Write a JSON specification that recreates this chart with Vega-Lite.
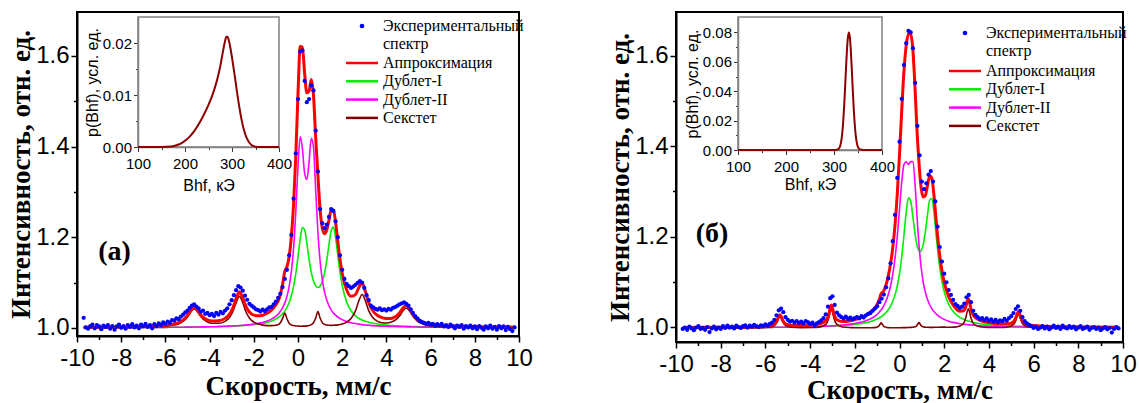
{
"$schema": "https://vega.github.io/schema/vega-lite/v6.json",
"background": "white",
"padding": {"left": 6, "top": 11, "right": 0, "bottom": 0},
"config": {
  "font": "Liberation Sans",
  "view": {"stroke": "black", "strokeWidth": 2},
  "axis": {"grid": false, "domainColor": "black", "domainWidth": 2, "tickColor": "black", "tickWidth": 1.5, "labelColor": "black", "titleColor": "black", "labelFont": "Liberation Sans", "labelFontSize": 24, "titleFont": "Liberation Serif", "titleFontWeight": "bold", "titleFontSize": 27},
  "legend": {"labelFont": "Liberation Serif", "labelFontSize": 16, "labelColor": "black"}
},
"datasets": {
"expA": [
{"v":-9.7,"y":1.022},{"v":-9.6,"y":1.001},{"v":-9.5,"y":0.998},{"v":-9.4,"y":1.004},{"v":-9.3,"y":1.007},{"v":-9.2,"y":0.999},{"v":-9.1,"y":1.006},{"v":-9.0,"y":1.003},{"v":-8.9,"y":0.997},{"v":-8.8,"y":1.005},
{"v":-8.7,"y":1.002},{"v":-8.6,"y":1.006},{"v":-8.5,"y":0.998},{"v":-8.4,"y":1.004},{"v":-8.3,"y":0.996},{"v":-8.2,"y":1.003},{"v":-8.1,"y":1.007},{"v":-8.0,"y":1.000},{"v":-7.9,"y":1.004},{"v":-7.8,"y":0.998},
{"v":-7.7,"y":1.006},{"v":-7.6,"y":1.002},{"v":-7.5,"y":1.008},{"v":-7.4,"y":1.001},{"v":-7.3,"y":1.005},{"v":-7.2,"y":0.999},{"v":-7.1,"y":1.007},{"v":-7.0,"y":1.003},{"v":-6.9,"y":1.009},{"v":-6.8,"y":1.002},
{"v":-6.7,"y":1.006},{"v":-6.6,"y":0.999},{"v":-6.5,"y":1.008},{"v":-6.4,"y":1.004},{"v":-6.3,"y":1.010},{"v":-6.2,"y":1.006},{"v":-6.1,"y":1.012},{"v":-6.0,"y":1.009},{"v":-5.9,"y":1.014},{"v":-5.8,"y":1.011},
{"v":-5.7,"y":1.017},{"v":-5.6,"y":1.016},{"v":-5.5,"y":1.021},{"v":-5.4,"y":1.019},{"v":-5.3,"y":1.025},{"v":-5.2,"y":1.029},{"v":-5.1,"y":1.034},{"v":-5.0,"y":1.038},{"v":-4.9,"y":1.044},{"v":-4.8,"y":1.049},
{"v":-4.7,"y":1.052},{"v":-4.6,"y":1.047},{"v":-4.5,"y":1.043},{"v":-4.4,"y":1.036},{"v":-4.3,"y":1.038},{"v":-4.2,"y":1.031},{"v":-4.1,"y":1.033},{"v":-4.0,"y":1.028},{"v":-3.9,"y":1.031},{"v":-3.8,"y":1.026},
{"v":-3.7,"y":1.033},{"v":-3.6,"y":1.029},{"v":-3.5,"y":1.035},{"v":-3.4,"y":1.032},{"v":-3.3,"y":1.038},{"v":-3.2,"y":1.043},{"v":-3.1,"y":1.052},{"v":-3.0,"y":1.061},{"v":-2.9,"y":1.072},{"v":-2.8,"y":1.083},
{"v":-2.7,"y":1.092},{"v":-2.6,"y":1.089},{"v":-2.5,"y":1.082},{"v":-2.4,"y":1.071},{"v":-2.3,"y":1.062},{"v":-2.2,"y":1.053},{"v":-2.1,"y":1.049},{"v":-2.0,"y":1.045},{"v":-1.9,"y":1.041},{"v":-1.8,"y":1.039},
{"v":-1.7,"y":1.036},{"v":-1.6,"y":1.040},{"v":-1.5,"y":1.037},{"v":-1.4,"y":1.041},{"v":-1.3,"y":1.045},{"v":-1.2,"y":1.046},{"v":-1.1,"y":1.052},{"v":-1.0,"y":1.058},{"v":-0.9,"y":1.066},{"v":-0.8,"y":1.075},
{"v":-0.7,"y":1.090},{"v":-0.6,"y":1.108},{"v":-0.5,"y":1.128},{"v":-0.4,"y":1.160},{"v":-0.3,"y":1.205},{"v":-0.2,"y":1.285},{"v":-0.1,"y":1.385},{"v":0.0,"y":1.505},{"v":0.1,"y":1.610},{"v":0.2,"y":1.612},
{"v":0.3,"y":1.545},{"v":0.4,"y":1.498},{"v":0.5,"y":1.505},{"v":0.6,"y":1.535},{"v":0.7,"y":1.524},{"v":0.8,"y":1.435},{"v":0.9,"y":1.345},{"v":1.0,"y":1.262},{"v":1.1,"y":1.231},{"v":1.2,"y":1.220},
{"v":1.3,"y":1.228},{"v":1.4,"y":1.245},{"v":1.5,"y":1.262},{"v":1.6,"y":1.258},{"v":1.7,"y":1.235},{"v":1.8,"y":1.200},{"v":1.9,"y":1.160},{"v":2.0,"y":1.128},{"v":2.1,"y":1.108},{"v":2.2,"y":1.097},
{"v":2.3,"y":1.092},{"v":2.4,"y":1.088},{"v":2.5,"y":1.091},{"v":2.6,"y":1.095},{"v":2.7,"y":1.099},{"v":2.8,"y":1.103},{"v":2.9,"y":1.100},{"v":3.0,"y":1.088},{"v":3.1,"y":1.072},{"v":3.2,"y":1.061},
{"v":3.3,"y":1.049},{"v":3.4,"y":1.045},{"v":3.5,"y":1.042},{"v":3.6,"y":1.040},{"v":3.7,"y":1.043},{"v":3.8,"y":1.039},{"v":3.9,"y":1.041},{"v":4.0,"y":1.038},{"v":4.1,"y":1.042},{"v":4.2,"y":1.040},
{"v":4.3,"y":1.044},{"v":4.4,"y":1.046},{"v":4.5,"y":1.049},{"v":4.6,"y":1.052},{"v":4.7,"y":1.054},{"v":4.8,"y":1.056},{"v":4.9,"y":1.053},{"v":5.0,"y":1.049},{"v":5.1,"y":1.041},{"v":5.2,"y":1.033},
{"v":5.3,"y":1.026},{"v":5.4,"y":1.021},{"v":5.5,"y":1.016},{"v":5.6,"y":1.013},{"v":5.7,"y":1.011},{"v":5.8,"y":1.009},{"v":5.9,"y":1.011},{"v":6.0,"y":1.007},{"v":6.1,"y":1.009},{"v":6.2,"y":1.004},
{"v":6.3,"y":1.008},{"v":6.4,"y":1.005},{"v":6.5,"y":1.009},{"v":6.6,"y":1.003},{"v":6.7,"y":1.006},{"v":6.8,"y":1.002},{"v":6.9,"y":1.007},{"v":7.0,"y":1.004},{"v":7.1,"y":0.999},{"v":7.2,"y":1.005},
{"v":7.3,"y":1.002},{"v":7.4,"y":1.006},{"v":7.5,"y":0.998},{"v":7.6,"y":1.004},{"v":7.7,"y":1.001},{"v":7.8,"y":1.005},{"v":7.9,"y":0.999},{"v":8.0,"y":1.003},{"v":8.1,"y":0.997},{"v":8.2,"y":1.004},
{"v":8.3,"y":1.000},{"v":8.4,"y":0.996},{"v":8.5,"y":1.003},{"v":8.6,"y":0.999},{"v":8.7,"y":1.005},{"v":8.8,"y":0.998},{"v":8.9,"y":1.002},{"v":9.0,"y":0.996},{"v":9.1,"y":1.004},{"v":9.2,"y":0.999},
{"v":9.3,"y":1.003},{"v":9.4,"y":0.995},{"v":9.5,"y":1.002},{"v":9.6,"y":0.997},{"v":9.7,"y":0.993},{"v":9.8,"y":1.001}
],
"fitA": [
{"v":-9.7,"fit":1.0013,"D1":1.0005,"D2":1.0004,"S":1.0004},
{"v":-9,"fit":1.0015,"D1":1.0005,"D2":1.0005,"S":1.0005},
{"v":-8,"fit":1.002,"D1":1.0007,"D2":1.0006,"S":1.0007},
{"v":-7,"fit":1.0029,"D1":1.0008,"D2":1.0008,"S":1.0013},
{"v":-6.5,"fit":1.004,"D1":1.001,"D2":1.001,"S":1.002},
{"v":-6,"fit":1.0055,"D1":1.0011,"D2":1.0011,"S":1.0033},
{"v":-5.6,"fit":1.0087,"D1":1.0013,"D2":1.0013,"S":1.0061},
{"v":-5.3,"fit":1.014,"D1":1.0014,"D2":1.0014,"S":1.0112},
{"v":-5.1,"fit":1.0214,"D1":1.0015,"D2":1.0015,"S":1.0184},
{"v":-4.95,"fit":1.0309,"D1":1.0016,"D2":1.0016,"S":1.0277},
{"v":-4.8,"fit":1.0417,"D1":1.0016,"D2":1.0017,"S":1.0384},
{"v":-4.7,"fit":1.045,"D1":1.0017,"D2":1.0018,"S":1.0415},
{"v":-4.6,"fit":1.0423,"D1":1.0018,"D2":1.0018,"S":1.0387},
{"v":-4.45,"fit":1.0323,"D1":1.0019,"D2":1.002,"S":1.0284},
{"v":-4.3,"fit":1.0237,"D1":1.002,"D2":1.0021,"S":1.0196},
{"v":-4.1,"fit":1.0176,"D1":1.0022,"D2":1.0023,"S":1.0131},
{"v":-3.9,"fit":1.0151,"D1":1.0024,"D2":1.0025,"S":1.0102},
{"v":-3.6,"fit":1.0156,"D1":1.0027,"D2":1.0029,"S":1.01},
{"v":-3.3,"fit":1.0209,"D1":1.0031,"D2":1.0034,"S":1.0144},
{"v":-3.1,"fit":1.0301,"D1":1.0035,"D2":1.0038,"S":1.0228},
{"v":-2.95,"fit":1.0437,"D1":1.0038,"D2":1.0042,"S":1.0357},
{"v":-2.8,"fit":1.0645,"D1":1.0041,"D2":1.0046,"S":1.0558},
{"v":-2.65,"fit":1.0789,"D1":1.0045,"D2":1.005,"S":1.0694},
{"v":-2.5,"fit":1.0661,"D1":1.005,"D2":1.0056,"S":1.0555},
{"v":-2.35,"fit":1.0468,"D1":1.0055,"D2":1.0063,"S":1.035},
{"v":-2.2,"fit":1.0351,"D1":1.0062,"D2":1.007,"S":1.0219},
{"v":-2,"fit":1.0281,"D1":1.007,"D2":1.0083,"S":1.0128},
{"v":-1.8,"fit":1.0267,"D1":1.0083,"D2":1.01,"S":1.0084},
{"v":-1.6,"fit":1.0279,"D1":1.0099,"D2":1.012,"S":1.006},
{"v":-1.4,"fit":1.0321,"D1":1.0121,"D2":1.015,"S":1.005},
{"v":-1.2,"fit":1.0392,"D1":1.0151,"D2":1.0193,"S":1.0048},
{"v":-1,"fit":1.0508,"D1":1.0195,"D2":1.0257,"S":1.0056},
{"v":-0.85,"fit":1.0654,"D1":1.0242,"D2":1.033,"S":1.0082},
{"v":-0.7,"fit":1.0952,"D1":1.0309,"D2":1.044,"S":1.0203},
{"v":-0.6,"fit":1.124,"D1":1.037,"D2":1.0546,"S":1.0324},
{"v":-0.5,"fit":1.1345,"D1":1.045,"D2":1.0695,"S":1.02},
{"v":-0.4,"fit":1.1573,"D1":1.0559,"D2":1.0913,"S":1.0101},
{"v":-0.3,"fit":1.2016,"D1":1.0708,"D2":1.1245,"S":1.0063},
{"v":-0.2,"fit":1.2728,"D1":1.0915,"D2":1.1762,"S":1.0051},
{"v":-0.1,"fit":1.3796,"D1":1.1199,"D2":1.2555,"S":1.0042},
{"v":0,"fit":1.5172,"D1":1.1565,"D2":1.3568,"S":1.0039},
{"v":0.1,"fit":1.6209,"D1":1.1957,"D2":1.4216,"S":1.0036},
{"v":0.2,"fit":1.6201,"D1":1.2212,"D2":1.3952,"S":1.0037},
{"v":0.3,"fit":1.5614,"D1":1.2165,"D2":1.3411,"S":1.0038},
{"v":0.4,"fit":1.5187,"D1":1.1869,"D2":1.3275,"S":1.0043},
{"v":0.5,"fit":1.5225,"D1":1.1516,"D2":1.3658,"S":1.0051},
{"v":0.6,"fit":1.5482,"D1":1.123,"D2":1.4181,"S":1.0071},
{"v":0.7,"fit":1.5141,"D1":1.1036,"D2":1.3994,"S":1.0111},
{"v":0.8,"fit":1.4197,"D1":1.0927,"D2":1.3054,"S":1.0216},
{"v":0.9,"fit":1.337,"D1":1.089,"D2":1.212,"S":1.036},
{"v":1,"fit":1.2612,"D1":1.092,"D2":1.1474,"S":1.0218},
{"v":1.1,"fit":1.2198,"D1":1.1021,"D2":1.1061,"S":1.0116},
{"v":1.2,"fit":1.2076,"D1":1.1206,"D2":1.0793,"S":1.0077},
{"v":1.3,"fit":1.2158,"D1":1.1483,"D2":1.0614,"S":1.0061},
{"v":1.4,"fit":1.2378,"D1":1.1833,"D2":1.0489,"S":1.0056},
{"v":1.5,"fit":1.2596,"D1":1.2144,"D2":1.0398,"S":1.0054},
{"v":1.6,"fit":1.2608,"D1":1.2222,"D2":1.033,"S":1.0056},
{"v":1.7,"fit":1.2331,"D1":1.1992,"D2":1.0279,"S":1.006},
{"v":1.8,"fit":1.191,"D1":1.1605,"D2":1.0239,"S":1.0066},
{"v":1.9,"fit":1.1513,"D1":1.1232,"D2":1.0207,"S":1.0074},
{"v":2,"fit":1.1207,"D1":1.094,"D2":1.0181,"S":1.0086},
{"v":2.2,"fit":1.084,"D1":1.0572,"D2":1.0142,"S":1.0126},
{"v":2.4,"fit":1.0696,"D1":1.0377,"D2":1.0114,"S":1.0205},
{"v":2.6,"fit":1.0734,"D1":1.0266,"D2":1.0094,"S":1.0374},
{"v":2.75,"fit":1.0886,"D1":1.0212,"D2":1.0082,"S":1.0592},
{"v":2.9,"fit":1.0982,"D1":1.0173,"D2":1.0072,"S":1.0737},
{"v":3.05,"fit":1.0804,"D1":1.0145,"D2":1.0064,"S":1.0595},
{"v":3.2,"fit":1.0561,"D1":1.0122,"D2":1.0058,"S":1.0381},
{"v":3.4,"fit":1.0367,"D1":1.01,"D2":1.005,"S":1.0217},
{"v":3.6,"fit":1.0271,"D1":1.0084,"D2":1.0044,"S":1.0143},
{"v":3.8,"fit":1.0224,"D1":1.0071,"D2":1.0039,"S":1.0114},
{"v":4,"fit":1.0204,"D1":1.0061,"D2":1.0035,"S":1.0108},
{"v":4.2,"fit":1.0206,"D1":1.0053,"D2":1.0031,"S":1.0122},
{"v":4.4,"fit":1.0243,"D1":1.0047,"D2":1.0028,"S":1.0168},
{"v":4.6,"fit":1.0333,"D1":1.0041,"D2":1.0026,"S":1.0266},
{"v":4.75,"fit":1.0437,"D1":1.0038,"D2":1.0024,"S":1.0375},
{"v":4.9,"fit":1.0495,"D1":1.0035,"D2":1.0022,"S":1.0438},
{"v":5.05,"fit":1.0424,"D1":1.0032,"D2":1.0021,"S":1.0371},
{"v":5.2,"fit":1.0305,"D1":1.003,"D2":1.0019,"S":1.0256},
{"v":5.4,"fit":1.0194,"D1":1.0027,"D2":1.0018,"S":1.0149},
{"v":5.7,"fit":1.0116,"D1":1.0024,"D2":1.0016,"S":1.0076},
{"v":6,"fit":1.0081,"D1":1.0021,"D2":1.0014,"S":1.0046},
{"v":6.5,"fit":1.0053,"D1":1.0017,"D2":1.0012,"S":1.0024},
{"v":7,"fit":1.0039,"D1":1.0014,"D2":1.001,"S":1.0015},
{"v":8,"fit":1.0027,"D1":1.0011,"D2":1.0008,"S":1.0008},
{"v":9,"fit":1.0019,"D1":1.0008,"D2":1.0006,"S":1.0005},
{"v":9.8,"fit":1.0015,"D1":1.0007,"D2":1.0005,"S":1.0003}
],
"pA": [
{"B":100,"p":0},{"B":150,"p":0.00002},{"B":160,"p":0.00005},{"B":170,"p":0.0001},{"B":180,"p":0.0003},{"B":190,"p":0.0006},{"B":200,"p":0.0012},{"B":210,"p":0.002},{"B":220,"p":0.0031},{"B":230,"p":0.0045},{"B":240,"p":0.0062},{"B":250,"p":0.0081},{"B":260,"p":0.0104},{"B":270,"p":0.0135},{"B":275,"p":0.0155},{"B":280,"p":0.018},{"B":285,"p":0.0203},{"B":288,"p":0.0212},{"B":290,"p":0.0212},{"B":292,"p":0.0209},{"B":295,"p":0.0198},{"B":300,"p":0.0172},{"B":305,"p":0.0142},{"B":310,"p":0.011},{"B":315,"p":0.008},{"B":320,"p":0.0054},{"B":325,"p":0.0034},{"B":330,"p":0.002},{"B":335,"p":0.0011},{"B":340,"p":0.0005},{"B":345,"p":0.0002},{"B":350,"p":0.00005},{"B":360,"p":0},{"B":400,"p":0}
],
"expB": [
{"v":-9.7,"y":0.996},{"v":-9.6,"y":0.999},{"v":-9.5,"y":0.994},{"v":-9.4,"y":1.001},{"v":-9.3,"y":0.997},{"v":-9.2,"y":0.993},{"v":-9.1,"y":0.999},{"v":-9.0,"y":1.002},{"v":-8.9,"y":0.996},{"v":-8.8,"y":0.998},
{"v":-8.7,"y":0.994},{"v":-8.6,"y":1.000},{"v":-8.5,"y":0.989},{"v":-8.4,"y":0.997},{"v":-8.3,"y":1.001},{"v":-8.2,"y":0.995},{"v":-8.1,"y":0.999},{"v":-8.0,"y":0.996},{"v":-7.9,"y":1.002},{"v":-7.8,"y":0.998},
{"v":-7.7,"y":1.003},{"v":-7.6,"y":0.999},{"v":-7.5,"y":1.001},{"v":-7.4,"y":0.997},{"v":-7.3,"y":1.003},{"v":-7.2,"y":1.000},{"v":-7.1,"y":0.998},{"v":-7.0,"y":1.002},{"v":-6.9,"y":1.004},{"v":-6.8,"y":0.999},
{"v":-6.7,"y":1.003},{"v":-6.6,"y":1.001},{"v":-6.5,"y":1.005},{"v":-6.4,"y":1.002},{"v":-6.3,"y":1.000},{"v":-6.2,"y":1.004},{"v":-6.1,"y":1.002},{"v":-6.0,"y":1.006},{"v":-5.9,"y":1.003},{"v":-5.8,"y":1.007},
{"v":-5.7,"y":1.010},{"v":-5.6,"y":1.016},{"v":-5.5,"y":1.026},{"v":-5.4,"y":1.037},{"v":-5.3,"y":1.041},{"v":-5.2,"y":1.033},{"v":-5.1,"y":1.022},{"v":-5.0,"y":1.016},{"v":-4.9,"y":1.012},{"v":-4.8,"y":1.014},
{"v":-4.7,"y":1.010},{"v":-4.6,"y":1.013},{"v":-4.5,"y":1.009},{"v":-4.4,"y":1.012},{"v":-4.3,"y":1.008},{"v":-4.2,"y":1.013},{"v":-4.1,"y":1.011},{"v":-4.0,"y":1.007},{"v":-3.9,"y":1.010},{"v":-3.8,"y":1.004},
{"v":-3.7,"y":1.008},{"v":-3.6,"y":1.011},{"v":-3.5,"y":1.015},{"v":-3.4,"y":1.020},{"v":-3.3,"y":1.028},{"v":-3.2,"y":1.045},{"v":-3.1,"y":1.064},{"v":-3.0,"y":1.068},{"v":-2.9,"y":1.049},{"v":-2.8,"y":1.032},
{"v":-2.7,"y":1.026},{"v":-2.6,"y":1.022},{"v":-2.5,"y":1.019},{"v":-2.4,"y":1.023},{"v":-2.3,"y":1.018},{"v":-2.2,"y":1.021},{"v":-2.1,"y":1.017},{"v":-2.0,"y":1.020},{"v":-1.9,"y":1.022},{"v":-1.8,"y":1.019},
{"v":-1.7,"y":1.024},{"v":-1.6,"y":1.021},{"v":-1.5,"y":1.026},{"v":-1.4,"y":1.029},{"v":-1.3,"y":1.031},{"v":-1.2,"y":1.036},{"v":-1.1,"y":1.041},{"v":-1.0,"y":1.046},{"v":-0.9,"y":1.055},{"v":-0.8,"y":1.063},
{"v":-0.7,"y":1.072},{"v":-0.6,"y":1.088},{"v":-0.5,"y":1.108},{"v":-0.4,"y":1.141},{"v":-0.3,"y":1.190},{"v":-0.2,"y":1.248},{"v":-0.1,"y":1.330},{"v":0.0,"y":1.410},{"v":0.1,"y":1.505},{"v":0.2,"y":1.580},
{"v":0.3,"y":1.628},{"v":0.4,"y":1.655},{"v":0.5,"y":1.652},{"v":0.6,"y":1.617},{"v":0.7,"y":1.540},{"v":0.8,"y":1.445},{"v":0.9,"y":1.380},{"v":1.0,"y":1.322},{"v":1.1,"y":1.305},{"v":1.2,"y":1.318},
{"v":1.3,"y":1.337},{"v":1.4,"y":1.345},{"v":1.5,"y":1.322},{"v":1.6,"y":1.278},{"v":1.7,"y":1.222},{"v":1.8,"y":1.177},{"v":1.9,"y":1.145},{"v":2.0,"y":1.118},{"v":2.1,"y":1.099},{"v":2.2,"y":1.082},
{"v":2.3,"y":1.071},{"v":2.4,"y":1.060},{"v":2.5,"y":1.051},{"v":2.6,"y":1.047},{"v":2.7,"y":1.042},{"v":2.8,"y":1.045},{"v":2.9,"y":1.052},{"v":3.0,"y":1.066},{"v":3.1,"y":1.071},{"v":3.2,"y":1.055},
{"v":3.3,"y":1.036},{"v":3.4,"y":1.027},{"v":3.5,"y":1.022},{"v":3.6,"y":1.018},{"v":3.7,"y":1.020},{"v":3.8,"y":1.015},{"v":3.9,"y":1.019},{"v":4.0,"y":1.014},{"v":4.1,"y":1.017},{"v":4.2,"y":1.012},
{"v":4.3,"y":1.016},{"v":4.4,"y":1.011},{"v":4.5,"y":1.015},{"v":4.6,"y":1.013},{"v":4.7,"y":1.018},{"v":4.8,"y":1.014},{"v":4.9,"y":1.020},{"v":5.0,"y":1.024},{"v":5.1,"y":1.031},{"v":5.2,"y":1.040},
{"v":5.3,"y":1.046},{"v":5.4,"y":1.036},{"v":5.5,"y":1.022},{"v":5.6,"y":1.013},{"v":5.7,"y":1.008},{"v":5.8,"y":1.005},{"v":5.9,"y":1.002},{"v":6.0,"y":0.998},{"v":6.1,"y":1.001},{"v":6.2,"y":0.996},
{"v":6.3,"y":0.999},{"v":6.4,"y":1.002},{"v":6.5,"y":0.997},{"v":6.6,"y":1.001},{"v":6.7,"y":0.995},{"v":6.8,"y":0.999},{"v":6.9,"y":1.003},{"v":7.0,"y":0.998},{"v":7.1,"y":1.001},{"v":7.2,"y":0.996},
{"v":7.3,"y":1.003},{"v":7.4,"y":0.999},{"v":7.5,"y":0.997},{"v":7.6,"y":1.002},{"v":7.7,"y":0.998},{"v":7.8,"y":1.001},{"v":7.9,"y":0.995},{"v":8.0,"y":0.999},{"v":8.1,"y":1.002},{"v":8.2,"y":0.996},
{"v":8.3,"y":0.998},{"v":8.4,"y":1.001},{"v":8.5,"y":0.994},{"v":8.6,"y":0.998},{"v":8.7,"y":1.000},{"v":8.8,"y":0.996},{"v":8.9,"y":0.999},{"v":9.0,"y":0.993},{"v":9.1,"y":0.997},{"v":9.2,"y":1.000},
{"v":9.3,"y":0.995},{"v":9.4,"y":0.998},{"v":9.5,"y":0.988},{"v":9.6,"y":0.996},{"v":9.7,"y":1.000},{"v":9.8,"y":0.997}
],
"fitB": [
{"v":-9.7,"fit":0.9992,"D1":0.9986,"D2":0.9985,"S":0.9981},
{"v":-8.5,"fit":0.9995,"D1":0.9987,"D2":0.9987,"S":0.9981},
{"v":-7.3,"fit":1.0,"D1":0.9989,"D2":0.9989,"S":0.9982},
{"v":-6.3,"fit":1.0009,"D1":0.9992,"D2":0.9992,"S":0.9985},
{"v":-5.85,"fit":1.0025,"D1":0.9994,"D2":0.9994,"S":0.9997},
{"v":-5.6,"fit":1.0066,"D1":0.9995,"D2":0.9995,"S":1.0036},
{"v":-5.47,"fit":1.0153,"D1":0.9996,"D2":0.9996,"S":1.0121},
{"v":-5.4,"fit":1.024,"D1":0.9996,"D2":0.9996,"S":1.0208},
{"v":-5.35,"fit":1.0273,"D1":0.9996,"D2":0.9996,"S":1.0241},
{"v":-5.3,"fit":1.024,"D1":0.9996,"D2":0.9996,"S":1.0208},
{"v":-5.23,"fit":1.0154,"D1":0.9997,"D2":0.9996,"S":1.0121},
{"v":-5.1,"fit":1.0073,"D1":0.9998,"D2":0.9998,"S":1.0037},
{"v":-4.85,"fit":1.0037,"D1":0.9999,"D2":1.0,"S":0.9998},
{"v":-4.4,"fit":1.0035,"D1":1.0003,"D2":1.0004,"S":0.9988},
{"v":-3.9,"fit":1.0048,"D1":1.0008,"D2":1.001,"S":0.999},
{"v":-3.55,"fit":1.0072,"D1":1.0012,"D2":1.0016,"S":1.0004},
{"v":-3.3,"fit":1.0138,"D1":1.0017,"D2":1.0021,"S":1.006},
{"v":-3.17,"fit":1.0272,"D1":1.0018,"D2":1.0023,"S":1.0191},
{"v":-3.1,"fit":1.0424,"D1":1.002,"D2":1.0025,"S":1.0339},
{"v":-3.05,"fit":1.0487,"D1":1.002,"D2":1.0026,"S":1.0401},
{"v":-3.0,"fit":1.0427,"D1":1.0021,"D2":1.0027,"S":1.0339},
{"v":-2.93,"fit":1.0283,"D1":1.0023,"D2":1.0029,"S":1.0191},
{"v":-2.8,"fit":1.0164,"D1":1.0028,"D2":1.0036,"S":1.006},
{"v":-2.55,"fit":1.0124,"D1":1.0035,"D2":1.0046,"S":1.0003},
{"v":-2.2,"fit":1.0142,"D1":1.0048,"D2":1.0065,"S":0.9989},
{"v":-1.85,"fit":1.0187,"D1":1.0068,"D2":1.0094,"S":0.9985},
{"v":-1.5,"fit":1.0263,"D1":1.0098,"D2":1.0141,"S":0.9984},
{"v":-1.25,"fit":1.0352,"D1":1.013,"D2":1.0196,"S":0.9986},
{"v":-1.05,"fit":1.0462,"D1":1.0167,"D2":1.0261,"S":0.9994},
{"v":-0.94,"fit":1.0562,"D1":1.0194,"D2":1.0312,"S":1.0016},
{"v":-0.87,"fit":1.0664,"D1":1.0213,"D2":1.035,"S":1.0061},
{"v":-0.82,"fit":1.0743,"D1":1.0229,"D2":1.0382,"S":1.0092},
{"v":-0.77,"fit":1.0764,"D1":1.0246,"D2":1.0417,"S":1.0061},
{"v":-0.7,"fit":1.0807,"D1":1.0275,"D2":1.0476,"S":1.0016},
{"v":-0.6,"fit":1.0939,"D1":1.0323,"D2":1.0581,"S":0.9995},
{"v":-0.5,"fit":1.1133,"D1":1.0385,"D2":1.072,"S":0.9988},
{"v":-0.4,"fit":1.14,"D1":1.0465,"D2":1.0909,"S":0.9986},
{"v":-0.3,"fit":1.1763,"D1":1.0571,"D2":1.1167,"S":0.9985},
{"v":-0.2,"fit":1.2262,"D1":1.0713,"D2":1.1524,"S":0.9985},
{"v":-0.1,"fit":1.294,"D1":1.0909,"D2":1.2006,"S":0.9985},
{"v":0.0,"fit":1.3813,"D1":1.1182,"D2":1.2605,"S":0.9986},
{"v":0.1,"fit":1.4794,"D1":1.1556,"D2":1.3211,"S":0.9987},
{"v":0.2,"fit":1.5665,"D1":1.2037,"D2":1.36,"S":0.9988},
{"v":0.3,"fit":1.6232,"D1":1.2544,"D2":1.3659,"S":0.9989},
{"v":0.4,"fit":1.649,"D1":1.286,"D2":1.3599,"S":0.9991},
{"v":0.5,"fit":1.6483,"D1":1.2789,"D2":1.3661,"S":0.9993},
{"v":0.6,"fit":1.6126,"D1":1.2433,"D2":1.3656,"S":0.9997},
{"v":0.7,"fit":1.5231,"D1":1.2049,"D2":1.3134,"S":1.0008},
{"v":0.77,"fit":1.448,"D1":1.1847,"D2":1.2562,"S":1.0031},
{"v":0.82,"fit":1.4025,"D1":1.1749,"D2":1.2169,"S":1.0067},
{"v":0.87,"fit":1.3654,"D1":1.169,"D2":1.1826,"S":1.0098},
{"v":0.92,"fit":1.3319,"D1":1.167,"D2":1.1542,"S":1.0067},
{"v":0.97,"fit":1.3073,"D1":1.169,"D2":1.1312,"S":1.0031},
{"v":1.05,"fit":1.288,"D1":1.1803,"D2":1.103,"S":1.0007},
{"v":1.15,"fit":1.2906,"D1":1.2083,"D2":1.0785,"S":0.9998},
{"v":1.25,"fit":1.3124,"D1":1.2474,"D2":1.0615,"S":0.9995},
{"v":1.35,"fit":1.3341,"D1":1.2813,"D2":1.0494,"S":0.9994},
{"v":1.45,"fit":1.3284,"D1":1.2845,"D2":1.0405,"S":0.9994},
{"v":1.55,"fit":1.2871,"D1":1.2498,"D2":1.0338,"S":0.9995},
{"v":1.65,"fit":1.2306,"D1":1.1985,"D2":1.0285,"S":0.9996},
{"v":1.75,"fit":1.1795,"D1":1.1513,"D2":1.0245,"S":0.9997},
{"v":1.85,"fit":1.1398,"D1":1.115,"D2":1.021,"S":0.9998},
{"v":2.0,"fit":1.0995,"D1":1.0784,"D2":1.0171,"S":1.0},
{"v":2.2,"fit":1.067,"D1":1.0504,"D2":1.0131,"S":0.9995},
{"v":2.45,"fit":1.0455,"D1":1.0318,"D2":1.0098,"S":0.9999},
{"v":2.7,"fit":1.0352,"D1":1.0216,"D2":1.0074,"S":1.0022},
{"v":2.87,"fit":1.0362,"D1":1.0172,"D2":1.0063,"S":1.0087},
{"v":2.96,"fit":1.0445,"D1":1.0152,"D2":1.0059,"S":1.0194},
{"v":3.03,"fit":1.0578,"D1":1.014,"D2":1.0056,"S":1.0342},
{"v":3.08,"fit":1.0626,"D1":1.0132,"D2":1.005,"S":1.0404},
{"v":3.13,"fit":1.0559,"D1":1.0128,"D2":1.0049,"S":1.0342},
{"v":3.2,"fit":1.0395,"D1":1.0115,"D2":1.0046,"S":1.0194},
{"v":3.33,"fit":1.0244,"D1":1.0099,"D2":1.0042,"S":1.0063},
{"v":3.6,"fit":1.0149,"D1":1.0074,"D2":1.0029,"S":1.0006},
{"v":4.0,"fit":1.0101,"D1":1.005,"D2":1.002,"S":0.9991},
{"v":4.5,"fit":1.0072,"D1":1.0031,"D2":1.0011,"S":0.999},
{"v":4.85,"fit":1.0071,"D1":1.0022,"D2":1.0006,"S":1.0003},
{"v":5.1,"fit":1.0119,"D1":1.0017,"D2":1.0003,"S":1.0059},
{"v":5.2,"fit":1.0202,"D1":1.0017,"D2":1.0002,"S":1.0143},
{"v":5.27,"fit":1.03,"D1":1.0016,"D2":1.0002,"S":1.0242},
{"v":5.32,"fit":1.0339,"D1":1.0016,"D2":1.0002,"S":1.0281},
{"v":5.37,"fit":1.0299,"D1":1.0016,"D2":1.0001,"S":1.0242},
{"v":5.44,"fit":1.0199,"D1":1.0015,"D2":1.0001,"S":1.0143},
{"v":5.54,"fit":1.0114,"D1":1.0015,"D2":1.0,"S":1.0059},
{"v":5.8,"fit":1.0045,"D1":1.0007,"D2":0.9997,"S":1.0001},
{"v":6.3,"fit":1.0022,"D1":1.0002,"D2":0.9995,"S":0.9985},
{"v":7.3,"fit":1.0008,"D1":0.9996,"D2":0.9991,"S":0.9981},
{"v":8.5,"fit":1.0,"D1":0.9991,"D2":0.9988,"S":0.9981},
{"v":9.8,"fit":0.9994,"D1":0.9988,"D2":0.9986,"S":0.998}
],
"pB": [
{"B":100,"p":0},{"B":200,"p":0},{"B":290,"p":0},{"B":301,"p":0},{"B":305,"p":0.0001},{"B":308,"p":0.0004},{"B":311,"p":0.0014},{"B":313,"p":0.0029},{"B":315,"p":0.0059},{"B":317,"p":0.0108},{"B":319,"p":0.0184},{"B":321,"p":0.0288},{"B":323,"p":0.0416},{"B":325,"p":0.0554},{"B":327,"p":0.068},{"B":329,"p":0.0768},{"B":331,"p":0.08},{"B":333,"p":0.0768},{"B":335,"p":0.068},{"B":337,"p":0.0554},{"B":339,"p":0.0416},{"B":341,"p":0.0288},{"B":343,"p":0.0184},{"B":345,"p":0.0108},{"B":347,"p":0.0059},{"B":349,"p":0.0029},{"B":351,"p":0.0014},{"B":354,"p":0.0004},{"B":357,"p":0.0001},{"B":361,"p":0},{"B":400,"p":0}
]
},
"hconcat": [
{
  "width": 442, "height": 324,
  "layer": [
    {"layer": [
      {"data": {"name": "fitA"},
       "transform": [{"fold": ["D1", "D2", "S"], "as": ["series", "val"]}],
       "mark": {"type": "line", "strokeWidth": 1.6, "interpolate": "monotone"},
       "encoding": {
         "x": {"field": "v", "type": "quantitative", "scale": {"domain": [-10, 10], "nice": false, "zero": false},
               "axis": {"orient": "bottom", "values": [-10,-8,-6,-4,-2,0,2,4,6,8,10], "labelExpr": "'' + datum.value", "tickSize": 6, "labelPadding": 4, "titlePadding": 3, "labelOverlap": false, "labelFlush": false, "title": "Скорость, мм/с"}},
         "y": {"field": "val", "type": "quantitative", "scale": {"domain": [0.982, 1.697], "nice": false, "zero": false},
               "axis": {"orient": "left", "values": [1, 1.2, 1.4, 1.6], "labelExpr": "format(datum.value, '.1f')", "tickSize": 6, "labelPadding": 2, "titlePadding": 0, "labelOverlap": false, "title": "Интенсивность, отн. ед."}},
         "stroke": {"field": "series", "type": "nominal", "scale": {"domain": ["fit", "D1", "D2", "S"], "range": ["#ff0000", "#00ee00", "#ff00ff", "#800000"]},
               "legend": {"title": null, "orient": "none", "legendX": 277, "legendY": 43, "symbolType": "M-3.2,0H3.2", "symbolSize": 100, "symbolStrokeWidth": 2.5, "labelOffset": 13, "rowPadding": 2.3, "labelFont": "Liberation Serif", "labelFontSize": 16, "labelExpr": "{'fit': 'Аппроксимация', 'D1': 'Дублет-I', 'D2': 'Дублет-II', 'S': 'Секстет'}[datum.label]"}}
       }},
      {"data": {"name": "fitA"},
       "mark": {"type": "line", "strokeWidth": 3, "interpolate": "monotone"},
       "encoding": {
         "x": {"field": "v", "type": "quantitative", "scale": {"domain": [-10, 10], "nice": false, "zero": false}, "axis": null},
         "y": {"field": "fit", "type": "quantitative", "scale": {"domain": [0.982, 1.697], "nice": false, "zero": false}, "axis": null},
         "stroke": {"datum": "fit", "type": "nominal", "scale": {"domain": ["fit", "D1", "D2", "S"], "range": ["#ff0000", "#00ee00", "#ff00ff", "#800000"]},
               "legend": {"title": null, "orient": "none", "legendX": 277, "legendY": 43, "symbolType": "M-3.2,0H3.2", "symbolSize": 100, "symbolStrokeWidth": 2.5, "labelOffset": 13, "rowPadding": 2.3, "labelFont": "Liberation Serif", "labelFontSize": 16, "labelExpr": "{'fit': 'Аппроксимация', 'D1': 'Дублет-I', 'D2': 'Дублет-II', 'S': 'Секстет'}[datum.label]"}}
       }},
      {"data": {"name": "expA"},
       "mark": {"type": "point", "filled": true, "size": 18, "opacity": 1},
       "encoding": {
         "x": {"field": "v", "type": "quantitative", "scale": {"domain": [-10, 10], "nice": false, "zero": false}, "axis": null},
         "y": {"field": "y", "type": "quantitative", "scale": {"domain": [0.982, 1.697], "nice": false, "zero": false}, "axis": null},
         "fill": {"datum": "Экспериментальный спектр", "type": "nominal", "scale": {"domain": ["Экспериментальный спектр"], "range": ["#0000ff"]},
               "legend": {"title": null, "orient": "none", "legendX": 277, "legendY": 6, "symbolType": "circle", "symbolSize": 22, "labelOffset": 13, "labelLimit": 300, "labelFont": "Liberation Serif", "labelFontSize": 16, "labelExpr": "datum.label == 'Экспериментальный спектр' ? ['Экспериментальный', 'спектр'] : datum.label"}}
       }},
      {"data": {"values": [{}]},
       "mark": {"type": "text", "text": "(а)", "font": "Liberation Serif", "fontWeight": "bold", "fontSize": 28, "color": "black"},
       "encoding": {
         "x": {"datum": -8.3, "type": "quantitative", "scale": {"domain": [-10, 10], "nice": false, "zero": false},
               "axis": {"orient": "bottom", "values": [-9,-7,-5,-3,-1,1,3,5,7,9], "labels": false, "domain": false, "tickSize": 3.5, "title": null}},
         "y": {"datum": 1.168, "type": "quantitative", "scale": {"domain": [0.982, 1.697], "nice": false, "zero": false},
               "axis": {"orient": "left", "values": [1.1, 1.3, 1.5], "labels": false, "domain": false, "tickSize": 3.5, "title": null}}
       }}
    ],
    "resolve": {"axis": {"x": "independent", "y": "independent"}}},
    {"layer": [
      {"data": {"values": [{}]},
       "mark": {"type": "rect", "fill": "transparent", "stroke": "#808080", "strokeWidth": 1.5},
       "encoding": {
         "x": {"datum": 100, "type": "quantitative", "scale": {"domain": [100, 400], "range": [61, 202], "nice": false, "zero": false},
               "axis": {"orient": "bottom", "offset": -189, "values": [150, 250, 350], "labels": false, "domain": false, "tickSize": 2.5, "tickColor": "#333333", "tickWidth": 1, "title": null}},
         "x2": {"datum": 400},
         "y": {"datum": 0, "type": "quantitative", "scale": {"domain": [0, 0.025], "range": [135, 5], "nice": false, "zero": false},
               "axis": {"orient": "left", "offset": -61, "values": [0.005, 0.015], "labels": false, "domain": false, "tickSize": 2.5, "tickColor": "#333333", "tickWidth": 1, "title": null}},
         "y2": {"datum": 0.025}
       }},
      {"data": {"name": "pA"},
       "mark": {"type": "line", "color": "#8b0000", "strokeWidth": 2, "interpolate": "monotone"},
       "encoding": {
         "x": {"field": "B", "type": "quantitative", "scale": {"domain": [100, 400], "range": [61, 202], "nice": false, "zero": false},
               "axis": {"orient": "bottom", "offset": -189, "values": [100, 200, 300, 400], "labelExpr": "'' + datum.value", "tickSize": 4.5, "labelFontSize": 15, "labelPadding": 5, "domainColor": "#808080", "domainWidth": 1.5, "tickColor": "#333333", "tickWidth": 1, "title": "Bhf, кЭ", "titleFont": "Liberation Sans", "titleFontWeight": "normal", "titleFontSize": 16, "titlePadding": 6, "labelOverlap": false, "labelFlush": false}},
         "y": {"field": "p", "type": "quantitative", "scale": {"domain": [0, 0.025], "range": [135, 5], "nice": false, "zero": false},
               "axis": {"orient": "left", "offset": -61, "values": [0, 0.01, 0.02], "labelExpr": "format(datum.value, '.2f')", "tickSize": 4.5, "labelFontSize": 15, "labelPadding": 2, "domainColor": "#808080", "domainWidth": 1.5, "tickColor": "#333333", "tickWidth": 1, "title": "p(Bhf), усл. ед.", "titleFont": "Liberation Sans", "titleFontWeight": "normal", "titleFontSize": 16, "titlePadding": 2, "labelOverlap": false}}
       }}
    ],
    "resolve": {"axis": {"x": "independent", "y": "independent"}}}
  ],
  "resolve": {"scale": {"x": "independent", "y": "independent"}}
},
{
  "width": 447, "height": 330,
  "layer": [
    {"layer": [
      {"data": {"name": "fitB"},
       "transform": [{"fold": ["D1", "D2", "S"], "as": ["series", "val"]}],
       "mark": {"type": "line", "strokeWidth": 1.6, "interpolate": "monotone"},
       "encoding": {
         "x": {"field": "v", "type": "quantitative", "scale": {"domain": [-10, 10], "nice": false, "zero": false},
               "axis": {"orient": "bottom", "values": [-10,-8,-6,-4,-2,0,2,4,6,8,10], "labelExpr": "'' + datum.value", "tickSize": 6, "labelPadding": 4, "titlePadding": 1, "labelOverlap": false, "labelFlush": false, "title": "Скорость, мм/с"}},
         "y": {"field": "val", "type": "quantitative", "scale": {"domain": [0.967, 1.697], "nice": false, "zero": false},
               "axis": {"orient": "left", "values": [1, 1.2, 1.4, 1.6], "labelExpr": "format(datum.value, '.1f')", "tickSize": 6, "labelPadding": 2, "titlePadding": 0, "labelOverlap": false, "title": "Интенсивность, отн. ед."}},
         "stroke": {"field": "series", "type": "nominal", "scale": {"domain": ["fit", "D1", "D2", "S"], "range": ["#ff0000", "#00ee00", "#ff00ff", "#800000"]},
               "legend": {"title": null, "orient": "none", "legendX": 281, "legendY": 51, "symbolType": "M-3.2,0H3.2", "symbolSize": 100, "symbolStrokeWidth": 2.5, "labelOffset": 13, "rowPadding": 2.3, "labelFont": "Liberation Serif", "labelFontSize": 16, "labelExpr": "{'fit': 'Аппроксимация', 'D1': 'Дублет-I', 'D2': 'Дублет-II', 'S': 'Секстет'}[datum.label]"}}
       }},
      {"data": {"name": "fitB"},
       "mark": {"type": "line", "strokeWidth": 3, "interpolate": "monotone"},
       "encoding": {
         "x": {"field": "v", "type": "quantitative", "scale": {"domain": [-10, 10], "nice": false, "zero": false}, "axis": null},
         "y": {"field": "fit", "type": "quantitative", "scale": {"domain": [0.967, 1.697], "nice": false, "zero": false}, "axis": null},
         "stroke": {"datum": "fit", "type": "nominal", "scale": {"domain": ["fit", "D1", "D2", "S"], "range": ["#ff0000", "#00ee00", "#ff00ff", "#800000"]},
               "legend": {"title": null, "orient": "none", "legendX": 281, "legendY": 51, "symbolType": "M-3.2,0H3.2", "symbolSize": 100, "symbolStrokeWidth": 2.5, "labelOffset": 13, "rowPadding": 2.3, "labelFont": "Liberation Serif", "labelFontSize": 16, "labelExpr": "{'fit': 'Аппроксимация', 'D1': 'Дублет-I', 'D2': 'Дублет-II', 'S': 'Секстет'}[datum.label]"}}
       }},
      {"data": {"name": "expB"},
       "mark": {"type": "point", "filled": true, "size": 18, "opacity": 1},
       "encoding": {
         "x": {"field": "v", "type": "quantitative", "scale": {"domain": [-10, 10], "nice": false, "zero": false}, "axis": null},
         "y": {"field": "y", "type": "quantitative", "scale": {"domain": [0.967, 1.697], "nice": false, "zero": false}, "axis": null},
         "fill": {"datum": "Экспериментальный спектр", "type": "nominal", "scale": {"domain": ["Экспериментальный спектр"], "range": ["#0000ff"]},
               "legend": {"title": null, "orient": "none", "legendX": 281, "legendY": 13, "symbolType": "circle", "symbolSize": 22, "labelOffset": 13, "labelLimit": 300, "labelFont": "Liberation Serif", "labelFontSize": 16, "labelExpr": "datum.label == 'Экспериментальный спектр' ? ['Экспериментальный', 'спектр'] : datum.label"}}
       }},
      {"data": {"values": [{}]},
       "mark": {"type": "text", "text": "(б)", "font": "Liberation Serif", "fontWeight": "bold", "fontSize": 28, "color": "black"},
       "encoding": {
         "x": {"datum": -8.39, "type": "quantitative", "scale": {"domain": [-10, 10], "nice": false, "zero": false},
               "axis": {"orient": "bottom", "values": [-9,-7,-5,-3,-1,1,3,5,7,9], "labels": false, "domain": false, "tickSize": 3.5, "title": null}},
         "y": {"datum": 1.205, "type": "quantitative", "scale": {"domain": [0.967, 1.697], "nice": false, "zero": false},
               "axis": {"orient": "left", "values": [1.1, 1.3, 1.5], "labels": false, "domain": false, "tickSize": 3.5, "title": null}}
       }}
    ],
    "resolve": {"axis": {"x": "independent", "y": "independent"}}},
    {"layer": [
      {"data": {"values": [{}]},
       "mark": {"type": "rect", "fill": "transparent", "stroke": "#808080", "strokeWidth": 1.5},
       "encoding": {
         "x": {"datum": 100, "type": "quantitative", "scale": {"domain": [100, 400], "range": [62, 206], "nice": false, "zero": false},
               "axis": {"orient": "bottom", "offset": -192, "values": [150, 250, 350], "labels": false, "domain": false, "tickSize": 2.5, "tickColor": "#333333", "tickWidth": 1, "title": null}},
         "x2": {"datum": 400},
         "y": {"datum": 0, "type": "quantitative", "scale": {"domain": [0, 0.0905], "range": [138, 5], "nice": false, "zero": false},
               "axis": {"orient": "left", "offset": -62, "values": [0.01, 0.03, 0.05, 0.07], "labels": false, "domain": false, "tickSize": 2.5, "tickColor": "#333333", "tickWidth": 1, "title": null}},
         "y2": {"datum": 0.0905}
       }},
      {"data": {"name": "pB"},
       "mark": {"type": "line", "color": "#8b0000", "strokeWidth": 2, "interpolate": "monotone"},
       "encoding": {
         "x": {"field": "B", "type": "quantitative", "scale": {"domain": [100, 400], "range": [62, 206], "nice": false, "zero": false},
               "axis": {"orient": "bottom", "offset": -192, "values": [100, 200, 300, 400], "labelExpr": "'' + datum.value", "tickSize": 4.5, "labelFontSize": 15, "labelPadding": 5, "domainColor": "#808080", "domainWidth": 1.5, "tickColor": "#333333", "tickWidth": 1, "title": "Bhf, кЭ", "titleFont": "Liberation Sans", "titleFontWeight": "normal", "titleFontSize": 16, "titlePadding": 2, "labelOverlap": false, "labelFlush": false}},
         "y": {"field": "p", "type": "quantitative", "scale": {"domain": [0, 0.0905], "range": [138, 5], "nice": false, "zero": false},
               "axis": {"orient": "left", "offset": -62, "values": [0, 0.02, 0.04, 0.06, 0.08], "labelExpr": "format(datum.value, '.2f')", "tickSize": 4.5, "labelFontSize": 15, "labelPadding": 2, "domainColor": "#808080", "domainWidth": 1.5, "tickColor": "#333333", "tickWidth": 1, "title": "p(Bhf), усл. ед.", "titleFont": "Liberation Sans", "titleFontWeight": "normal", "titleFontSize": 16, "titlePadding": 2, "labelOverlap": false}}
       }}
    ],
    "resolve": {"axis": {"x": "independent", "y": "independent"}}}
  ],
  "resolve": {"scale": {"x": "independent", "y": "independent"}}
}
],
"spacing": 71,
"resolve": {"scale": {"fill": "independent", "stroke": "independent"}, "legend": {"fill": "independent", "stroke": "independent"}}
}
